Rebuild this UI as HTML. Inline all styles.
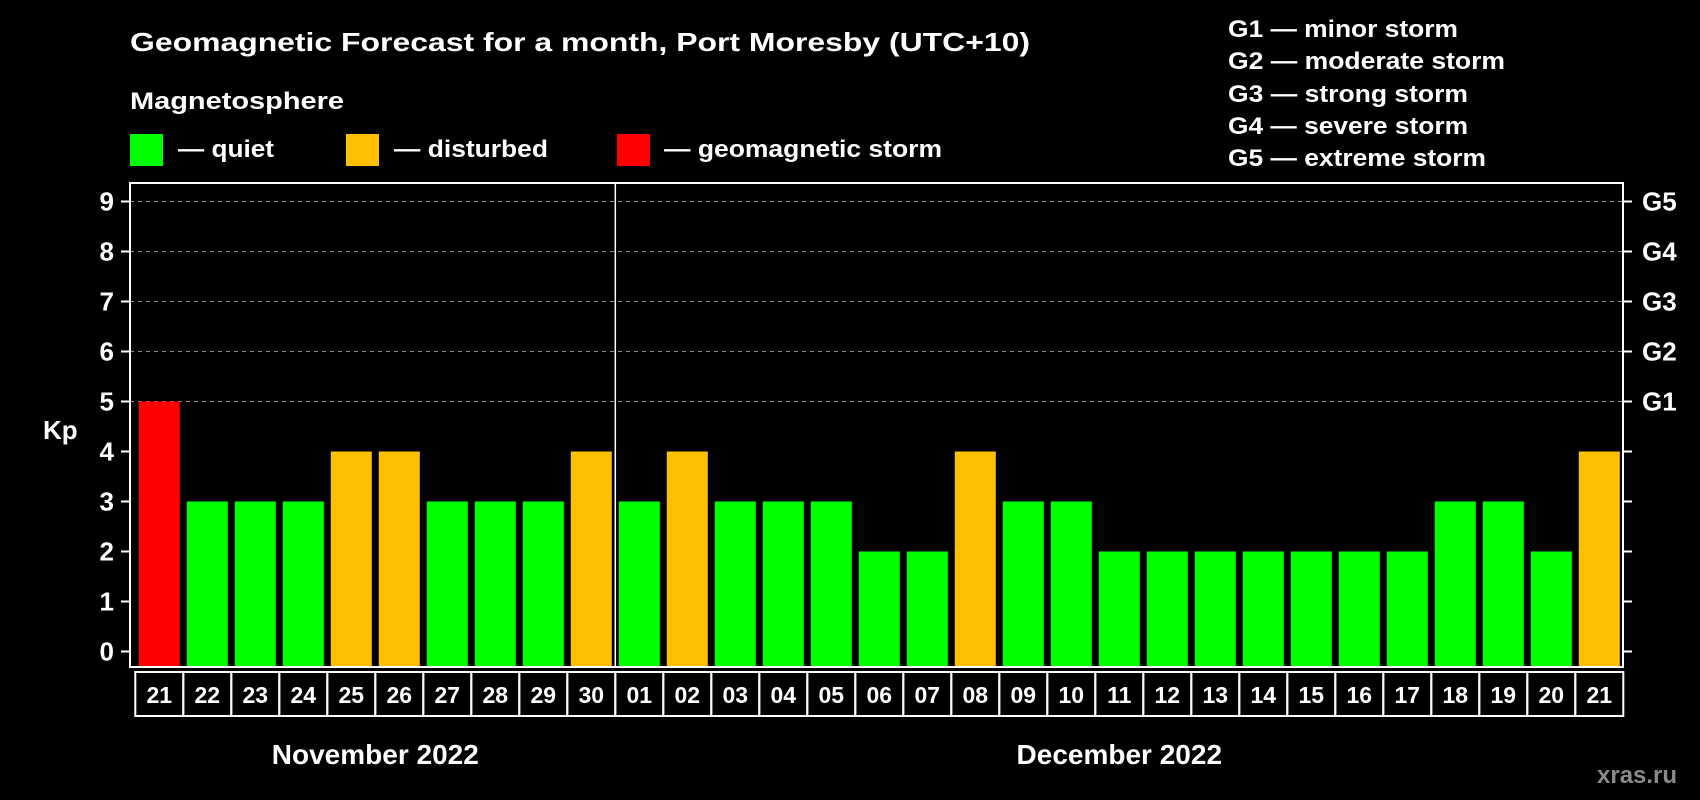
<!DOCTYPE html>
<html><head><meta charset="utf-8"><style>
html,body{margin:0;padding:0;background:#000;}
svg{display:block;font-family:"Liberation Sans",Arial,sans-serif;font-weight:bold;}
</style></head><body>
<svg id="chart" width="1700" height="800" viewBox="0 0 1700 800">
<rect x="0" y="0" width="1700" height="800" fill="#000"/>
<text x="130" y="51" fill="#fff" font-size="26" textLength="900" lengthAdjust="spacingAndGlyphs">Geomagnetic Forecast for a month, Port Moresby (UTC+10)</text>
<text x="130" y="109" fill="#fff" font-size="24" textLength="214" lengthAdjust="spacingAndGlyphs">Magnetosphere</text>
<g>
<rect x="130" y="134" width="33" height="32" fill="#00ff00"/>
<text x="178" y="157" fill="#fff" font-size="24" textLength="96" lengthAdjust="spacingAndGlyphs">— quiet</text></g>
<g>
<rect x="346" y="134" width="33" height="32" fill="#ffc000"/>
<text x="394" y="157" fill="#fff" font-size="24" textLength="154" lengthAdjust="spacingAndGlyphs">— disturbed</text></g>
<g>
<rect x="617" y="134" width="33" height="32" fill="#ff0000"/>
<text x="664" y="157" fill="#fff" font-size="24" textLength="278" lengthAdjust="spacingAndGlyphs">— geomagnetic storm</text></g>
<g font-size="24" fill="#fff">
<text x="1228" y="37" textLength="230" lengthAdjust="spacingAndGlyphs">G1 — minor storm</text>
<text x="1228" y="69" textLength="277" lengthAdjust="spacingAndGlyphs">G2 — moderate storm</text>
<text x="1228" y="102" textLength="240" lengthAdjust="spacingAndGlyphs">G3 — strong storm</text>
<text x="1228" y="134" textLength="240" lengthAdjust="spacingAndGlyphs">G4 — severe storm</text>
<text x="1228" y="166" textLength="258" lengthAdjust="spacingAndGlyphs">G5 — extreme storm</text>
</g>
<text x="43" y="439" fill="#fff" font-size="26">Kp</text>
<g id="grid"></g><g id="bars"></g><g id="axes"></g>
<text x="1597" y="783" fill="#8a8a8a" font-size="24">xras.ru</text>
</svg>
<script>
const days = ["21","22","23","24","25","26","27","28","29","30","01","02","03","04","05","06","07","08","09","10","11","12","13","14","15","16","17","18","19","20","21"];
const kpValues = [5,3,3,3,4,4,3,3,3,4,3,4,3,3,3,2,2,4,3,3,2,2,2,2,2,2,2,3,3,2,4];
const yTicks = [0,1,2,3,4,5,6,7,8,9];
const gLabels = ["G1","G2","G3","G4","G5"];
const gLevels = [5,6,7,8,9];
const months = ["November 2022","December 2022"];
const monthSpans = [[0,9],[10,30]];

const NS="http://www.w3.org/2000/svg";
const plotL=130, plotR=1623, plotT=183, plotB=667;
const y0=651.5, unit=50, x0=138.8, pitch=48, bw=41;
const yScale=v=>y0-v*unit;
const xScale=i=>x0+i*pitch;
function mk(tag,attrs,parent,text){const e=document.createElementNS(NS,tag);for(const k in attrs)e.setAttribute(k,attrs[k]);if(text!==undefined)e.textContent=text;parent.appendChild(e);return e;}
const grid=document.getElementById('grid'),bars=document.getElementById('bars'),axes=document.getElementById('axes');
gLevels.forEach((g,i)=>{
 const l=mk('line',{x1:plotL,x2:plotR,y1:yScale(g),y2:yScale(g),stroke:'#8c8c8c','stroke-width':1,'stroke-dasharray':'4,4'},grid);
 
 
 const t=mk('text',{x:1642,y:yScale(g)+9,fill:'#fff','font-size':26},axes,gLabels[i]);
 
 
});
kpValues.forEach((v,i)=>{
 const c=v>=5?'#ff0000':(v>=4?'#ffc000':'#00ff00');
 const r=mk('rect',{x:xScale(i),y:yScale(v),width:bw,height:y0+15.5-yScale(v)-0,fill:c},bars);
 r.setAttribute('height',plotB-yScale(v));
 
 
});
yTicks.forEach(v=>{
 const l=mk('line',{x1:121,x2:plotL,y1:yScale(v),y2:yScale(v),stroke:'#fff','stroke-width':2},axes);
 
 
 const r=mk('line',{x1:plotR,x2:1632,y1:yScale(v),y2:yScale(v),stroke:'#fff','stroke-width':2},axes);
 
 
 const t=mk('text',{x:114,y:yScale(v)+9,fill:'#fff','font-size':26,'text-anchor':'end'},axes,String(v));
 
 
});
const frame=mk('rect',{x:plotL,y:plotT,width:plotR-plotL,height:plotB-plotT,fill:'none',stroke:'#fff','stroke-width':2},axes);


const sepX=(xScale(9)+bw+xScale(10))/2;
const sep=mk('line',{x1:sepX,x2:sepX,y1:plotT,y2:plotB,stroke:'#fff','stroke-width':1.5},axes);


days.forEach((d,i)=>{
 const bx=xScale(i)-(pitch-bw)/2;
 const b=mk('rect',{x:bx,y:672,width:pitch,height:44,fill:'none',stroke:'#fff','stroke-width':2},axes);
 
 
 const t=mk('text',{x:xScale(i)+bw/2,y:703,fill:'#fff','font-size':23,'text-anchor':'middle'},axes,d);
 
 
});
months.forEach((m,i)=>{
 const a=monthSpans[i][0],b=monthSpans[i][1];
 const cx=(xScale(a)+xScale(b)+bw)/2;
 const t=mk('text',{x:cx,y:764,fill:'#fff','font-size':28,'text-anchor':'middle'},axes,m);
 
 
});
</script>
</body></html>
